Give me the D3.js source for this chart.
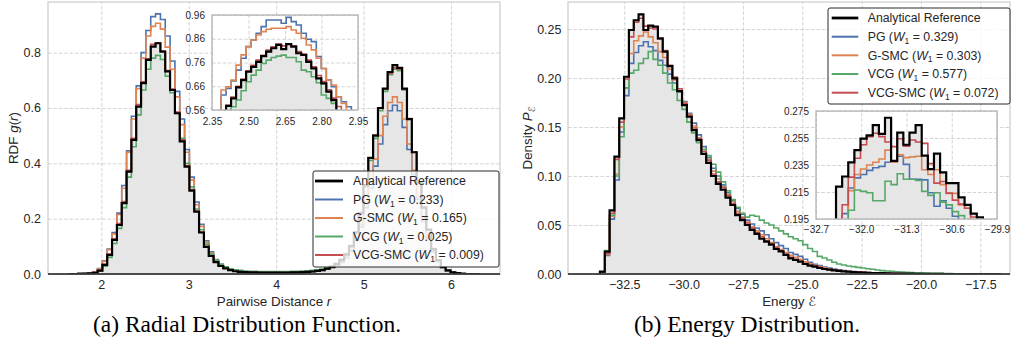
<!DOCTYPE html>
<html>
<head>
<meta charset="utf-8">
<script src="https://cdn.jsdelivr.net/npm/d3@7"></script>
<style>
  html, body { margin: 0; padding: 0; background: #ffffff; }
  svg { display: block; }
</style>
</head>
<body>
<svg id="fig" width="1011" height="345"></svg>
<script>
// ---------------- data ----------------
const seriesNames = ["Analytical Reference", "PG", "G-SMC", "VCG", "VCG-SMC"];
const rdfW1 = [null, 0.233, 0.165, 0.025, 0.009];
const energyW1 = [null, 0.329, 0.303, 0.577, 0.072];

// RDF histogram: bins of equal width starting at rdfBinStart
const rdfBinStart = 1.625;
const rdfBinWidth = 0.0553;
const rdfReference = [0,0,0.001,0.001,0.002,0.004,0.012,0.033,0.069,0.123,0.177,0.256,0.370,0.485,0.605,0.690,0.774,0.822,0.834,0.804,0.732,0.665,0.581,0.479,0.388,0.301,0.225,0.150,0.098,0.065,0.043,0.029,0.020,0.014,0.010,0.008,0.007,0.006,0.006,0.005,0.005,0.005,0.005,0.005,0.005,0.005,0.006,0.006,0.007,0.008,0.009,0.011,0.014,0.019,0.026,0.036,0.050,0.070,0.100,0.150,0.220,0.320,0.420,0.500,0.600,0.670,0.730,0.755,0.745,0.670,0.560,0.440,0.330,0.240,0.160,0.090,0.050,0.025,0.013,0.006,0.003,0.001,0,0,0];
const rdfPG = [0,0,0.001,0.002,0.003,0.007,0.020,0.048,0.090,0.150,0.220,0.320,0.445,0.570,0.680,0.800,0.880,0.930,0.940,0.920,0.860,0.770,0.660,0.560,0.450,0.350,0.260,0.180,0.120,0.080,0.052,0.035,0.024,0.016,0.012,0.009,0.007,0.006,0.006,0.005,0.005,0.005,0.005,0.005,0.005,0.005,0.006,0.006,0.007,0.008,0.009,0.011,0.013,0.017,0.023,0.031,0.042,0.058,0.082,0.120,0.170,0.240,0.310,0.390,0.470,0.540,0.590,0.610,0.590,0.530,0.450,0.360,0.270,0.190,0.130,0.080,0.045,0.024,0.012,0.006,0.003,0.001,0,0,0];
const rdfGSMC = [0,0,0.001,0.002,0.003,0.007,0.019,0.046,0.088,0.145,0.215,0.310,0.440,0.560,0.670,0.780,0.860,0.895,0.906,0.885,0.820,0.740,0.640,0.540,0.440,0.340,0.250,0.172,0.115,0.076,0.050,0.034,0.023,0.016,0.012,0.009,0.007,0.006,0.006,0.005,0.005,0.005,0.005,0.005,0.005,0.005,0.006,0.006,0.007,0.008,0.009,0.011,0.014,0.018,0.024,0.033,0.045,0.062,0.088,0.128,0.180,0.255,0.330,0.415,0.500,0.570,0.620,0.640,0.620,0.560,0.470,0.375,0.280,0.200,0.135,0.085,0.048,0.025,0.012,0.006,0.003,0.001,0,0,0];
const rdfVCG = [0,0,0.001,0.001,0.002,0.004,0.010,0.028,0.060,0.110,0.165,0.240,0.350,0.460,0.575,0.665,0.740,0.780,0.790,0.775,0.715,0.655,0.580,0.490,0.400,0.315,0.235,0.160,0.108,0.072,0.050,0.035,0.026,0.019,0.015,0.013,0.011,0.010,0.010,0.009,0.009,0.009,0.009,0.009,0.009,0.009,0.010,0.010,0.011,0.012,0.013,0.015,0.018,0.023,0.030,0.040,0.054,0.074,0.104,0.152,0.220,0.315,0.410,0.490,0.590,0.660,0.720,0.740,0.735,0.665,0.560,0.440,0.330,0.240,0.160,0.090,0.050,0.026,0.013,0.006,0.003,0.001,0,0,0];
const rdfVCGSMC = [0,0,0.001,0.001,0.002,0.005,0.013,0.035,0.072,0.126,0.182,0.262,0.375,0.490,0.612,0.695,0.778,0.830,0.836,0.806,0.735,0.668,0.585,0.485,0.392,0.305,0.228,0.152,0.100,0.066,0.044,0.030,0.021,0.015,0.011,0.008,0.007,0.006,0.006,0.005,0.005,0.005,0.005,0.005,0.005,0.005,0.006,0.006,0.007,0.008,0.009,0.011,0.014,0.019,0.026,0.036,0.051,0.071,0.102,0.152,0.222,0.322,0.420,0.502,0.598,0.668,0.725,0.745,0.740,0.668,0.562,0.442,0.332,0.242,0.162,0.092,0.051,0.026,0.013,0.006,0.003,0.001,0,0,0];

// RDF close-up around the first peak (finer bins)
const rdfZoomBinStart = 2.346;
const rdfZoomBinWidth = 0.0206;
const rdfZoomReference = [0.49,0.52,0.545,0.577,0.609,0.655,0.686,0.721,0.742,0.763,0.787,0.806,0.820,0.834,0.816,0.838,0.827,0.799,0.792,0.763,0.735,0.693,0.672,0.637,0.602,0.555,0.52,0.49,0.46,0.43];
const rdfZoomPG = [0.53,0.555,0.623,0.651,0.682,0.728,0.778,0.827,0.855,0.883,0.911,0.939,0.939,0.939,0.925,0.950,0.932,0.918,0.883,0.858,0.848,0.785,0.735,0.686,0.658,0.616,0.595,0.574,0.545,0.52];
const rdfZoomGSMC = [0.52,0.555,0.644,0.658,0.686,0.749,0.792,0.827,0.855,0.876,0.890,0.900,0.904,0.904,0.904,0.911,0.897,0.883,0.862,0.834,0.813,0.778,0.735,0.686,0.665,0.616,0.588,0.555,0.53,0.50];
const rdfZoomVCG = [0.47,0.50,0.52,0.545,0.574,0.602,0.641,0.679,0.707,0.728,0.756,0.770,0.781,0.787,0.791,0.781,0.781,0.763,0.728,0.721,0.700,0.675,0.623,0.609,0.588,0.555,0.53,0.50,0.47,0.44];
const rdfZoomVCGSMC = [0.49,0.52,0.55,0.580,0.615,0.660,0.690,0.725,0.748,0.770,0.790,0.812,0.826,0.838,0.830,0.835,0.830,0.806,0.795,0.770,0.742,0.705,0.680,0.645,0.610,0.575,0.550,0.52,0.49,0.46];

// Energy histogram
const energyBinStart = -33.525;
const energyBinWidth = 0.2035;
const energyReference = [0.0024,0.0228,0.065,0.1197,0.1588,0.2013,0.249,0.259,0.265,0.249,0.2534,0.2524,0.2405,0.2269,0.2122,0.1997,0.1867,0.1724,0.1605,0.1469,0.1367,0.1225,0.1135,0.100,0.092,0.086,0.078,0.0704,0.060,0.055,0.050,0.045,0.041,0.036,0.033,0.030,0.0255,0.023,0.0195,0.016,0.0143,0.0126,0.0102,0.0085,0.0075,0.0061,0.0051,0.0044,0.0037,0.0031,0.0027,0.0023,0.002,0.0017,0.0014,0.0012,0.001,0.0009,0.0008,0.0006,0.0005,0.0004,0.0004,0.0003,0.0003,0.0002,0.0002,0.0002,0.0001,0.0001,0.0001,0,0,0,0,0,0,0,0,0,0,0,0];
const energyPG = [0.002,0.019,0.056,0.096,0.145,0.182,0.215,0.226,0.233,0.237,0.232,0.228,0.218,0.213,0.204,0.195,0.186,0.176,0.164,0.154,0.142,0.130,0.119,0.108,0.100,0.091,0.083,0.075,0.067,0.061,0.055,0.051,0.047,0.044,0.040,0.036,0.032,0.029,0.026,0.022,0.020,0.018,0.015,0.012,0.010,0.0085,0.0072,0.006,0.005,0.0042,0.0036,0.003,0.0026,0.0022,0.0019,0.0016,0.0013,0.0011,0.001,0.0009,0.0008,0.0007,0.0006,0.0005,0.0004,0.0003,0.0003,0.0002,0.0002,0.0001,0.0001,0,0,0,0,0,0,0,0,0,0,0,0];
const energyGSMC = [0.002,0.020,0.059,0.102,0.150,0.190,0.225,0.238,0.243,0.247,0.242,0.236,0.227,0.221,0.209,0.198,0.187,0.175,0.163,0.151,0.139,0.127,0.117,0.105,0.097,0.089,0.081,0.074,0.064,0.058,0.053,0.048,0.044,0.040,0.036,0.032,0.028,0.025,0.022,0.019,0.017,0.015,0.0125,0.0105,0.009,0.0075,0.0063,0.0053,0.0045,0.0038,0.0032,0.0027,0.0023,0.002,0.0017,0.0014,0.0012,0.001,0.0009,0.0008,0.0007,0.0006,0.0005,0.0004,0.0003,0.0003,0.0002,0.0002,0.0001,0.0001,0.0001,0,0,0,0,0,0,0,0,0,0,0,0];
const energyVCG = [0.002,0.024,0.060,0.100,0.140,0.190,0.205,0.208,0.215,0.220,0.227,0.219,0.213,0.205,0.195,0.188,0.177,0.168,0.155,0.144,0.134,0.127,0.121,0.112,0.104,0.094,0.085,0.076,0.068,0.062,0.058,0.060,0.059,0.055,0.052,0.050,0.047,0.044,0.041,0.038,0.036,0.034,0.030,0.026,0.023,0.018,0.0163,0.0143,0.012,0.0102,0.0092,0.0082,0.0075,0.0068,0.0061,0.0054,0.0048,0.0041,0.0034,0.003,0.0027,0.0023,0.002,0.0017,0.0015,0.0013,0.0011,0.001,0.0008,0.0007,0.0006,0.0005,0.0004,0.0003,0.0003,0.0002,0.0002,0.0002,0.0001,0.0001,0.0001,0,0];
const energyVCGSMC = [0.002,0.021,0.062,0.117,0.155,0.199,0.242,0.257,0.261,0.253,0.251,0.250,0.240,0.228,0.213,0.201,0.189,0.174,0.162,0.149,0.138,0.125,0.116,0.102,0.094,0.088,0.080,0.072,0.062,0.057,0.052,0.047,0.042,0.038,0.034,0.031,0.027,0.024,0.020,0.017,0.015,0.013,0.011,0.009,0.008,0.0065,0.0054,0.0046,0.0039,0.0033,0.0028,0.0024,0.0021,0.0018,0.0015,0.0013,0.0011,0.0009,0.0008,0.0007,0.0006,0.0005,0.0004,0.0003,0.0003,0.0002,0.0002,0.0002,0.0001,0.0001,0.0001,0,0,0,0,0,0,0,0,0,0,0,0];

// Energy close-up around the mode (finer bins)
const energyZoomBinStart = -32.485;
const energyZoomBinWidth = 0.0947;
const energyZoomReference = [0.185,0.219,0.2265,0.237,0.246,0.2545,0.257,0.2645,0.258,0.270,0.238,0.259,0.250,0.259,0.2646,0.242,0.232,0.2435,0.2295,0.2216,0.2216,0.211,0.2055,0.199,0.1962,0.19];
const energyZoomPG = [0.18,0.185,0.199,0.218,0.2255,0.228,0.231,0.233,0.234,0.237,0.237,0.2415,0.2355,0.2245,0.2245,0.224,0.2145,0.2045,0.2085,0.203,0.197,0.19,0.185,0.18,0.18,0.18];
const energyZoomGSMC = [0.18,0.185,0.19,0.216,0.228,0.232,0.235,0.237,0.2395,0.246,0.237,0.2425,0.2405,0.241,0.2415,0.2315,0.228,0.2315,0.2205,0.214,0.214,0.2055,0.203,0.19,0.185,0.18];
const energyZoomVCG = [0.175,0.18,0.185,0.2015,0.2165,0.2155,0.2145,0.2085,0.2085,0.223,0.2205,0.2285,0.2245,0.2245,0.2235,0.2155,0.2125,0.2145,0.2075,0.2055,0.2005,0.1975,0.19,0.185,0.18,0.175];
const energyZoomVCGSMC = [0.18,0.19,0.2056,0.226,0.240,0.250,0.256,0.2585,0.256,0.252,0.2486,0.2545,0.249,0.2535,0.252,0.251,0.236,0.2216,0.2228,0.2142,0.209,0.206,0.203,0.1965,0.19,0.185];

// Axis ticks
const rdfXTicks = [2, 3, 4, 5, 6];
const rdfYTicks = [0, 0.2, 0.4, 0.6, 0.8];
const rdfZoomXTicks = [2.35, 2.50, 2.65, 2.80, 2.95];
const rdfZoomYTicks = [0.56, 0.66, 0.76, 0.86, 0.96];
const energyXTicks = [-32.5, -30.0, -27.5, -25.0, -22.5, -20.0, -17.5];
const energyYTicks = [0, 0.05, 0.10, 0.15, 0.20, 0.25];
const energyZoomXTicks = [-32.7, -32.0, -31.3, -30.6, -29.9];
const energyZoomYTicks = [0.195, 0.215, 0.235, 0.255, 0.275];

// ---------------- styles ----------------
const SANS = "'Liberation Sans', Arial, 'DejaVu Sans', sans-serif";
const SERIF = "'Liberation Serif', 'Times New Roman', serif";
const TEXT = "#262626";
const styles = {
  "Analytical Reference": { color: "#000000", width: 2.2 },
  "PG":      { color: "#4C72B0", width: 1.6 },
  "G-SMC":   { color: "#DD8452", width: 1.6 },
  "VCG":     { color: "#55A868", width: 1.6 },
  "VCG-SMC": { color: "#C44E52", width: 1.6 }
};
const drawOrder = ["PG", "G-SMC", "VCG", "VCG-SMC", "Analytical Reference"];

const svg = d3.select("#fig");

function stepPoints(start, width, values) {
  const pts = [[start, 0]];
  values.forEach((v, i) => {
    pts.push([start + i * width, v], [start + (i + 1) * width, v]);
  });
  pts.push([start + values.length * width, 0]);
  return pts;
}

function histPanel(o) {
  const g = svg.append("g").attr("transform", `translate(${o.left},${o.top})`);
  const x = d3.scaleLinear().domain(o.xDomain).range([0, o.width]);
  const y = d3.scaleLinear().domain(o.yDomain).range([o.height, 0]);

  g.append("rect").attr("width", o.width).attr("height", o.height).attr("fill", "#ffffff");

  // dashed grid
  const grid = g.append("g");
  grid.append("g").attr("transform", `translate(0,${o.height})`)
    .call(d3.axisBottom(x).tickValues(o.xTicks).tickSize(-o.height).tickFormat(""));
  grid.append("g")
    .call(d3.axisLeft(y).tickValues(o.yTicks).tickSize(-o.width).tickFormat(""));
  grid.selectAll(".domain").remove();
  grid.selectAll("line")
    .attr("stroke", "#cfcfcf").attr("stroke-width", 0.9).attr("stroke-dasharray", "3.6,1.8");

  const cid = "clip-" + o.id;
  g.append("clipPath").attr("id", cid)
    .append("rect").attr("width", o.width).attr("height", o.height);
  const plot = g.append("g").attr("clip-path", `url(#${cid})`);

  const line = d3.line().x(d => x(d[0])).y(d => y(d[1]));
  const area = d3.area().x(d => x(d[0])).y0(y(0)).y1(d => y(d[1]));

  plot.append("path")
    .attr("d", area(stepPoints(o.binStart, o.binWidth, o.data["Analytical Reference"])))
    .attr("fill", "#e6e6e6");

  drawOrder.forEach(name => {
    plot.append("path")
      .attr("d", line(stepPoints(o.binStart, o.binWidth, o.data[name])))
      .attr("fill", "none")
      .attr("stroke", styles[name].color)
      .attr("stroke-width", styles[name].width)
      .attr("stroke-linejoin", "miter");
  });

  // frame
  g.append("rect").attr("width", o.width).attr("height", o.height)
    .attr("fill", "none").attr("stroke", o.frameColor).attr("stroke-width", o.frameWidth);
  if (o.baseline) {
    g.append("line").attr("x1", 0).attr("x2", o.width)
      .attr("y1", y(0)).attr("y2", y(0))
      .attr("stroke", "#1e1e1e").attr("stroke-width", 1.6);
  }

  // tick labels
  const xa = g.append("g").attr("transform", `translate(0,${o.height})`)
    .call(d3.axisBottom(x).tickValues(o.xTicks).tickFormat(o.xFormat).tickSize(0).tickPadding(o.padX));
  const ya = g.append("g")
    .call(d3.axisLeft(y).tickValues(o.yTicks).tickFormat(o.yFormat).tickSize(0).tickPadding(o.padY));
  [xa, ya].forEach(a => {
    a.select(".domain").remove();
    a.selectAll("text").attr("font-size", o.fontSize).attr("font-family", SANS).attr("fill", TEXT);
  });
  return { g, x, y };
}

function legend(left, top, w, h, rowY, lineX0, lineX1, textX, w1) {
  const g = svg.append("g").attr("transform", `translate(${left},${top})`);
  g.append("rect").attr("width", w).attr("height", h).attr("rx", 2)
    .attr("fill", "#ffffff").attr("fill-opacity", 0.8)
    .attr("stroke", "#2a2a2a").attr("stroke-width", 1);
  seriesNames.forEach((name, i) => {
    const yy = rowY[i];
    g.append("line").attr("x1", lineX0).attr("x2", lineX1).attr("y1", yy).attr("y2", yy)
      .attr("stroke", styles[name].color).attr("stroke-width", styles[name].width + (i === 0 ? 0.6 : 0.4));
    const t = g.append("text").attr("x", textX).attr("y", yy + 4.3)
      .attr("font-family", SANS).attr("font-size", 12.3).attr("fill", TEXT);
    if (w1[i] === null) {
      t.text(name);
    } else {
      t.append("tspan").text(name + " (");
      t.append("tspan").attr("font-style", "italic").text("W");
      t.append("tspan").attr("font-size", 8.6).attr("dy", 2.8).text("1");
      t.append("tspan").attr("dy", -2.8).text(" = " + d3.format(".3f")(w1[i]) + ")");
    }
  });
}

// ---------------- (a) radial distribution function ----------------
histPanel({
  id: "rdf", left: 48, top: 2, width: 452, height: 272,
  xDomain: [1.39, 6.56], yDomain: [0, 0.983],
  xTicks: rdfXTicks, yTicks: rdfYTicks,
  xFormat: d3.format("d"), yFormat: d3.format(".1f"),
  fontSize: 12.5, padX: 6.6, padY: 7,
  binStart: rdfBinStart, binWidth: rdfBinWidth,
  data: { "Analytical Reference": rdfReference, "PG": rdfPG, "G-SMC": rdfGSMC, "VCG": rdfVCG, "VCG-SMC": rdfVCGSMC },
  frameColor: "#cccccc", frameWidth: 1.2, baseline: true
});
legend(313, 171, 186, 96, [10, 28.5, 47, 65.5, 84], 2, 30, 40, rdfW1);
histPanel({
  id: "rdfzoom", left: 212, top: 15, width: 146, height: 95,
  xDomain: [2.35, 2.95], yDomain: [0.56, 0.96],
  xTicks: rdfZoomXTicks, yTicks: rdfZoomYTicks,
  xFormat: d3.format(".2f"), yFormat: d3.format(".2f"),
  fontSize: 10, padX: 7.4, padY: 7,
  binStart: rdfZoomBinStart, binWidth: rdfZoomBinWidth,
  data: { "Analytical Reference": rdfZoomReference, "PG": rdfZoomPG, "G-SMC": rdfZoomGSMC, "VCG": rdfZoomVCG, "VCG-SMC": rdfZoomVCGSMC },
  frameColor: "#b3b3b3", frameWidth: 1.3, baseline: false
});

// ---------------- (b) energy distribution ----------------
histPanel({
  id: "energy", left: 568, top: 2, width: 442, height: 272,
  xDomain: [-34.87, -16.25], yDomain: [0, 0.2776],
  xTicks: energyXTicks, yTicks: energyYTicks,
  xFormat: d3.format(".1f"), yFormat: d3.format(".2f"),
  fontSize: 12.5, padX: 6.6, padY: 6.5,
  binStart: energyBinStart, binWidth: energyBinWidth,
  data: { "Analytical Reference": energyReference, "PG": energyPG, "G-SMC": energyGSMC, "VCG": energyVCG, "VCG-SMC": energyVCGSMC },
  frameColor: "#cccccc", frameWidth: 1.2, baseline: true
});
legend(828, 8, 182, 96, [10, 28.7, 47.3, 66, 84.7], 3.7, 30.3, 39.7, energyW1);
histPanel({
  id: "energyzoom", left: 816, top: 111, width: 181, height: 108,
  xDomain: [-32.7, -29.9], yDomain: [0.195, 0.275],
  xTicks: energyZoomXTicks, yTicks: energyZoomYTicks,
  xFormat: d3.format(".1f"), yFormat: d3.format(".3f"),
  fontSize: 10, padX: 7.1, padY: 7,
  binStart: energyZoomBinStart, binWidth: energyZoomBinWidth,
  data: { "Analytical Reference": energyZoomReference, "PG": energyZoomPG, "G-SMC": energyZoomGSMC, "VCG": energyZoomVCG, "VCG-SMC": energyZoomVCGSMC },
  frameColor: "#b3b3b3", frameWidth: 1.3, baseline: false
});

// ---------------- axis titles ----------------
function label(x, y, rotate, parts) {
  const t = svg.append("text")
    .attr("transform", `translate(${x},${y})` + (rotate ? " rotate(-90)" : ""))
    .attr("text-anchor", "middle").attr("font-family", SANS)
    .attr("font-size", 13.4).attr("fill", TEXT);
  parts.forEach(p => {
    const s = t.append("tspan").text(p.t);
    if (p.i) s.attr("font-style", "italic");
    if (p.dy) s.attr("dy", p.dy);
    if (p.fs) s.attr("font-size", p.fs);
    if (p.f) s.attr("font-family", p.f);
  });
}
label(274, 305.5, false, [{ t: "Pairwise Distance " }, { t: "r", i: true }]);
label(789, 305.5, false, [{ t: "Energy " }, { t: "ℰ", f: "'DejaVu Sans', sans-serif", fs: 12.5 }]);
label(18, 138, true, [{ t: "RDF " }, { t: "g", i: true }, { t: "(" }, { t: "r", i: true }, { t: ")" }]);
label(531.5, 138, true, [{ t: "Density " }, { t: "P", i: true }, { t: "ℰ", dy: 3, fs: 9.4, f: "'DejaVu Sans', sans-serif" }]);

// ---------------- captions ----------------
svg.append("text").attr("x", 247).attr("y", 332).attr("text-anchor", "middle")
  .attr("font-family", SERIF).attr("font-size", 23.5).attr("fill", "#000")
  .text("(a) Radial Distribution Function.");
svg.append("text").attr("x", 747).attr("y", 332).attr("text-anchor", "middle")
  .attr("font-family", SERIF).attr("font-size", 23.5).attr("fill", "#000")
  .text("(b) Energy Distribution.");
</script>
</body>
</html>
